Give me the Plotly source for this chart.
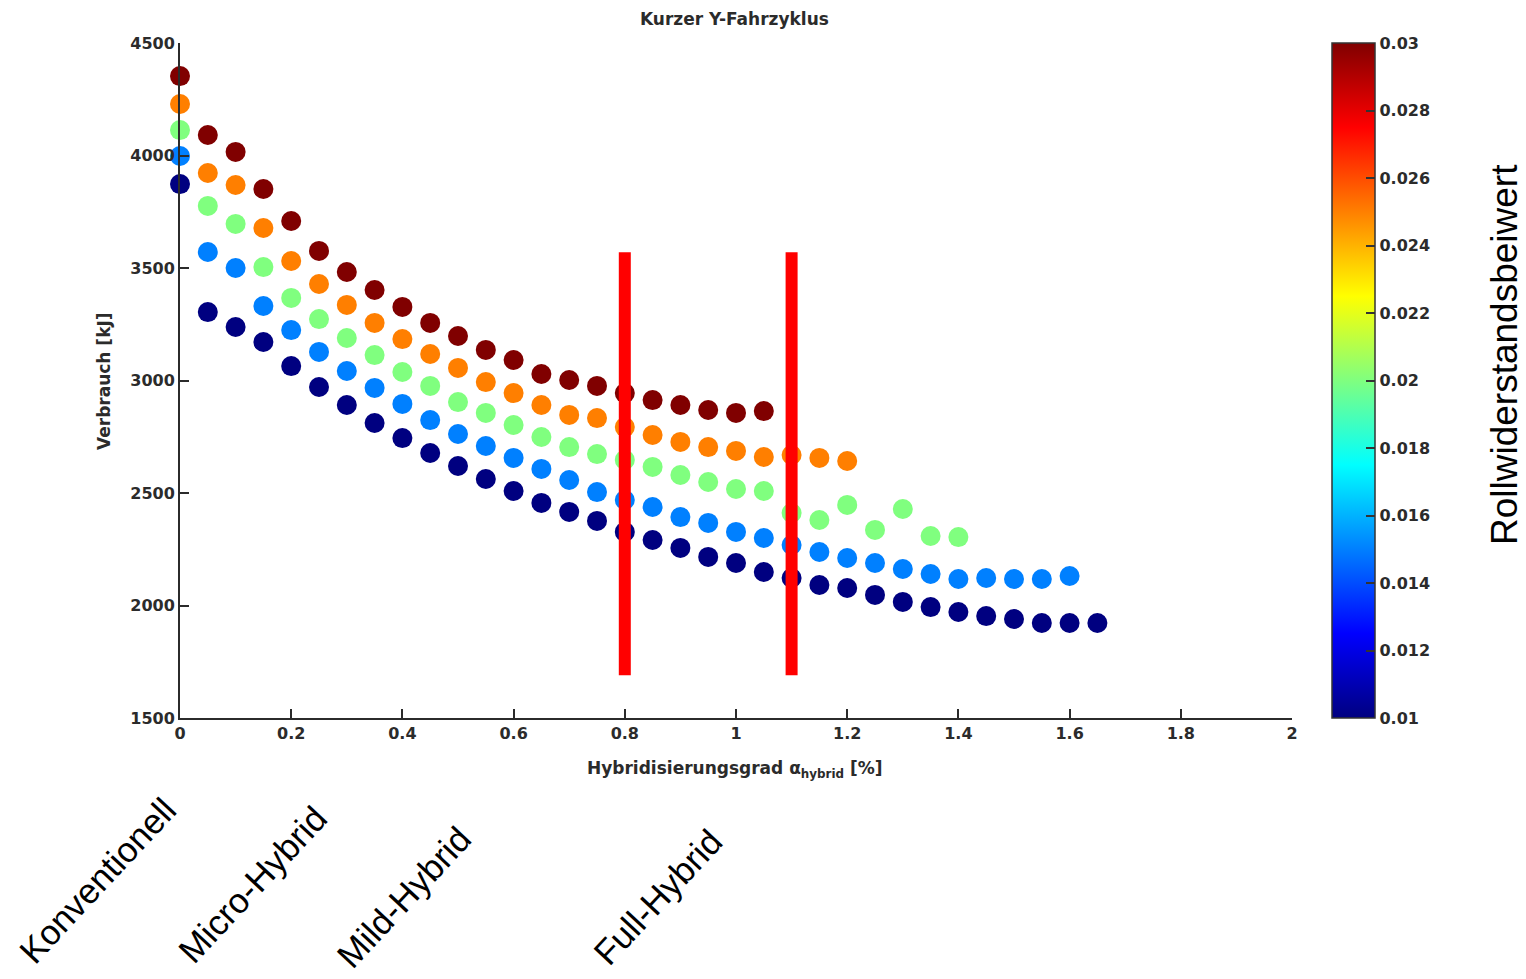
import plotly.graph_objects as go

# Hybridisierungsgrad [%] (common grid, each series uses a prefix of it)
alpha = [0.00, 0.05, 0.10, 0.15, 0.20, 0.25, 0.30, 0.35, 0.40, 0.45, 0.50,
         0.55, 0.60, 0.65, 0.70, 0.75, 0.80, 0.85, 0.90, 0.95, 1.00, 1.05,
         1.10, 1.15, 1.20, 1.25, 1.30, 1.35, 1.40, 1.45, 1.50, 1.55, 1.60, 1.65]

# Rollwiderstandsbeiwert of each series
cr_values = [0.010, 0.015, 0.020, 0.025, 0.030]

# Verbrauch [kJ] per series
verbrauch_010 = [3873, 3304, 3238, 3171, 3064, 2971, 2891, 2811, 2744, 2678, 2620,
                 2562, 2509, 2456, 2416, 2376, 2327, 2291, 2256, 2216, 2189, 2149,
                 2122, 2091, 2078, 2047, 2016, 1993, 1971, 1953, 1940, 1922, 1922, 1922]
verbrauch_015 = [3998, 3571, 3500, 3331, 3224, 3127, 3042, 2967, 2896, 2824, 2762,
                 2709, 2656, 2607, 2558, 2504, 2469, 2438, 2393, 2367, 2327, 2300,
                 2269, 2238, 2211, 2189, 2162, 2140, 2118, 2122, 2118, 2118, 2131]
verbrauch_020 = [4113, 3776, 3696, 3504, 3367, 3273, 3189, 3113, 3038, 2976, 2904,
                 2856, 2802, 2749, 2704, 2673, 2647, 2616, 2580, 2549, 2518, 2509,
                 2411, 2380, 2447, 2336, 2429, 2309, 2304]
verbrauch_025 = [4229, 3922, 3869, 3678, 3531, 3429, 3336, 3256, 3184, 3118, 3056,
                 2993, 2944, 2891, 2847, 2833, 2793, 2758, 2727, 2704, 2687, 2660,
                 2669, 2656, 2642]
verbrauch_030 = [4353, 4091, 4016, 3851, 3709, 3576, 3482, 3402, 3327, 3256, 3198,
                 3136, 3091, 3029, 3002, 2976, 2944, 2913, 2891, 2869, 2856, 2864]

series = [verbrauch_010, verbrauch_015, verbrauch_020, verbrauch_025, verbrauch_030]

# Class boundaries (red bars) and their vertical extent
class_bounds = [0.8, 1.1]
bound_range = [1690, 3570]

# Hybrid class labels below the chart
class_labels = ["Konventionell", "Micro-Hybrid", "Mild-Hybrid", "Full-Hybrid"]

x_ticks = [0, 0.2, 0.4, 0.6, 0.8, 1, 1.2, 1.4, 1.6, 1.8, 2]
x_tick_text = ["0", "0.2", "0.4", "0.6", "0.8", "1", "1.2", "1.4", "1.6", "1.8", "2"]
y_ticks = [1500, 2000, 2500, 3000, 3500, 4000, 4500]
cb_ticks = [0.010, 0.012, 0.014, 0.016, 0.018, 0.020, 0.022, 0.024, 0.026, 0.028, 0.030]
cb_tick_text = ["0.01", "0.012", "0.014", "0.016", "0.018", "0.02",
                "0.022", "0.024", "0.026", "0.028", "0.03"]

# MATLAB-style jet colormap
jet = [[0.0, "rgb(0,0,128)"], [0.125, "rgb(0,0,255)"], [0.375, "rgb(0,255,255)"],
       [0.625, "rgb(255,255,0)"], [0.875, "rgb(255,0,0)"], [1.0, "rgb(128,0,0)"]]

W, H = 1526, 979
L, R, T, B = 180, 1292, 43, 718  # plot area in pixels


def px(x):
    return (x - L) / (R - L)


def py(y):
    return (B - y) / (B - T)


axis_family = "DejaVu Sans"
ink = "#2b2b2b"
tick_font = dict(family=axis_family, size=16, color=ink, weight="bold")
label_font = dict(family=axis_family, size=17, color=ink, weight="bold")

fig = go.Figure()

for i, (cr, vals) in enumerate(zip(cr_values, series)):
    fig.add_trace(go.Scatter(
        x=alpha[:len(vals)], y=vals, mode="markers", cliponaxis=False,
        showlegend=False,
        marker=dict(size=20, color=[cr] * len(vals), colorscale=jet,
                    cmin=0.01, cmax=0.03, line=dict(width=0),
                    showscale=(i == 0),
                    colorbar=dict(
                        x=px(1332), xanchor="left", y=0.5, yanchor="middle",
                        len=B - T, lenmode="pixels", thickness=43,
                        thicknessmode="pixels", outlinewidth=1.5,
                        outlinecolor="#333", tickvals=cb_ticks,
                        ticktext=cb_tick_text, ticks="inside", ticklen=9,
                        tickwidth=1.5, tickcolor="#333", tickfont=tick_font,
                        ypad=0, xpad=0)),
    ))

for xb in class_bounds:
    fig.add_trace(go.Scatter(
        x=[xb, xb], y=bound_range, mode="lines", showlegend=False,
        line=dict(color="#ff0000", width=12),
    ))

annotations = [
    dict(text="Kurzer Y-Fahrzyklus", x=px(734), y=py(19), font=label_font),
    dict(text="Hybridisierungsgrad α<sub>hybrid</sub> [%]", x=px(735), y=py(769),
         font=label_font),
    dict(text="Verbrauch [kJ]", x=px(104), y=py(381), textangle=-90,
         font=label_font),
    dict(text="Rollwiderstandsbeiwert", x=px(1504), y=py(355), textangle=-90,
         font=dict(family="Arial, Liberation Sans", size=37, color="#000")),
]

label_centers = [(97, 880), (252, 884), (403, 897), (657, 897)]
for lab, (cx, cy) in zip(class_labels, label_centers):
    annotations.append(dict(
        text=lab, x=px(cx), y=py(cy), textangle=-47,
        font=dict(family="Arial, Liberation Sans", size=35, color="#000")))

for a in annotations:
    a.update(xref="paper", yref="paper", showarrow=False,
             xanchor="center", yanchor="middle")

fig.update_layout(
    width=W, height=H,
    margin=dict(l=L, r=W - R, t=T, b=H - B),
    paper_bgcolor="white", plot_bgcolor="white",
    annotations=annotations,
    xaxis=dict(range=[0, 2], tickvals=x_ticks, ticktext=x_tick_text,
               showgrid=False, zeroline=False, showline=True, linecolor=ink,
               linewidth=2, ticks="inside", ticklen=9, tickwidth=2,
               tickcolor=ink, tickfont=tick_font),
    yaxis=dict(range=[1500, 4500], tickvals=y_ticks, showgrid=False,
               zeroline=False, showline=True, linecolor=ink, linewidth=2,
               ticks="inside", ticklen=9, tickwidth=2, tickcolor=ink,
               tickfont=tick_font),
)

fig.write_html("out.html")
